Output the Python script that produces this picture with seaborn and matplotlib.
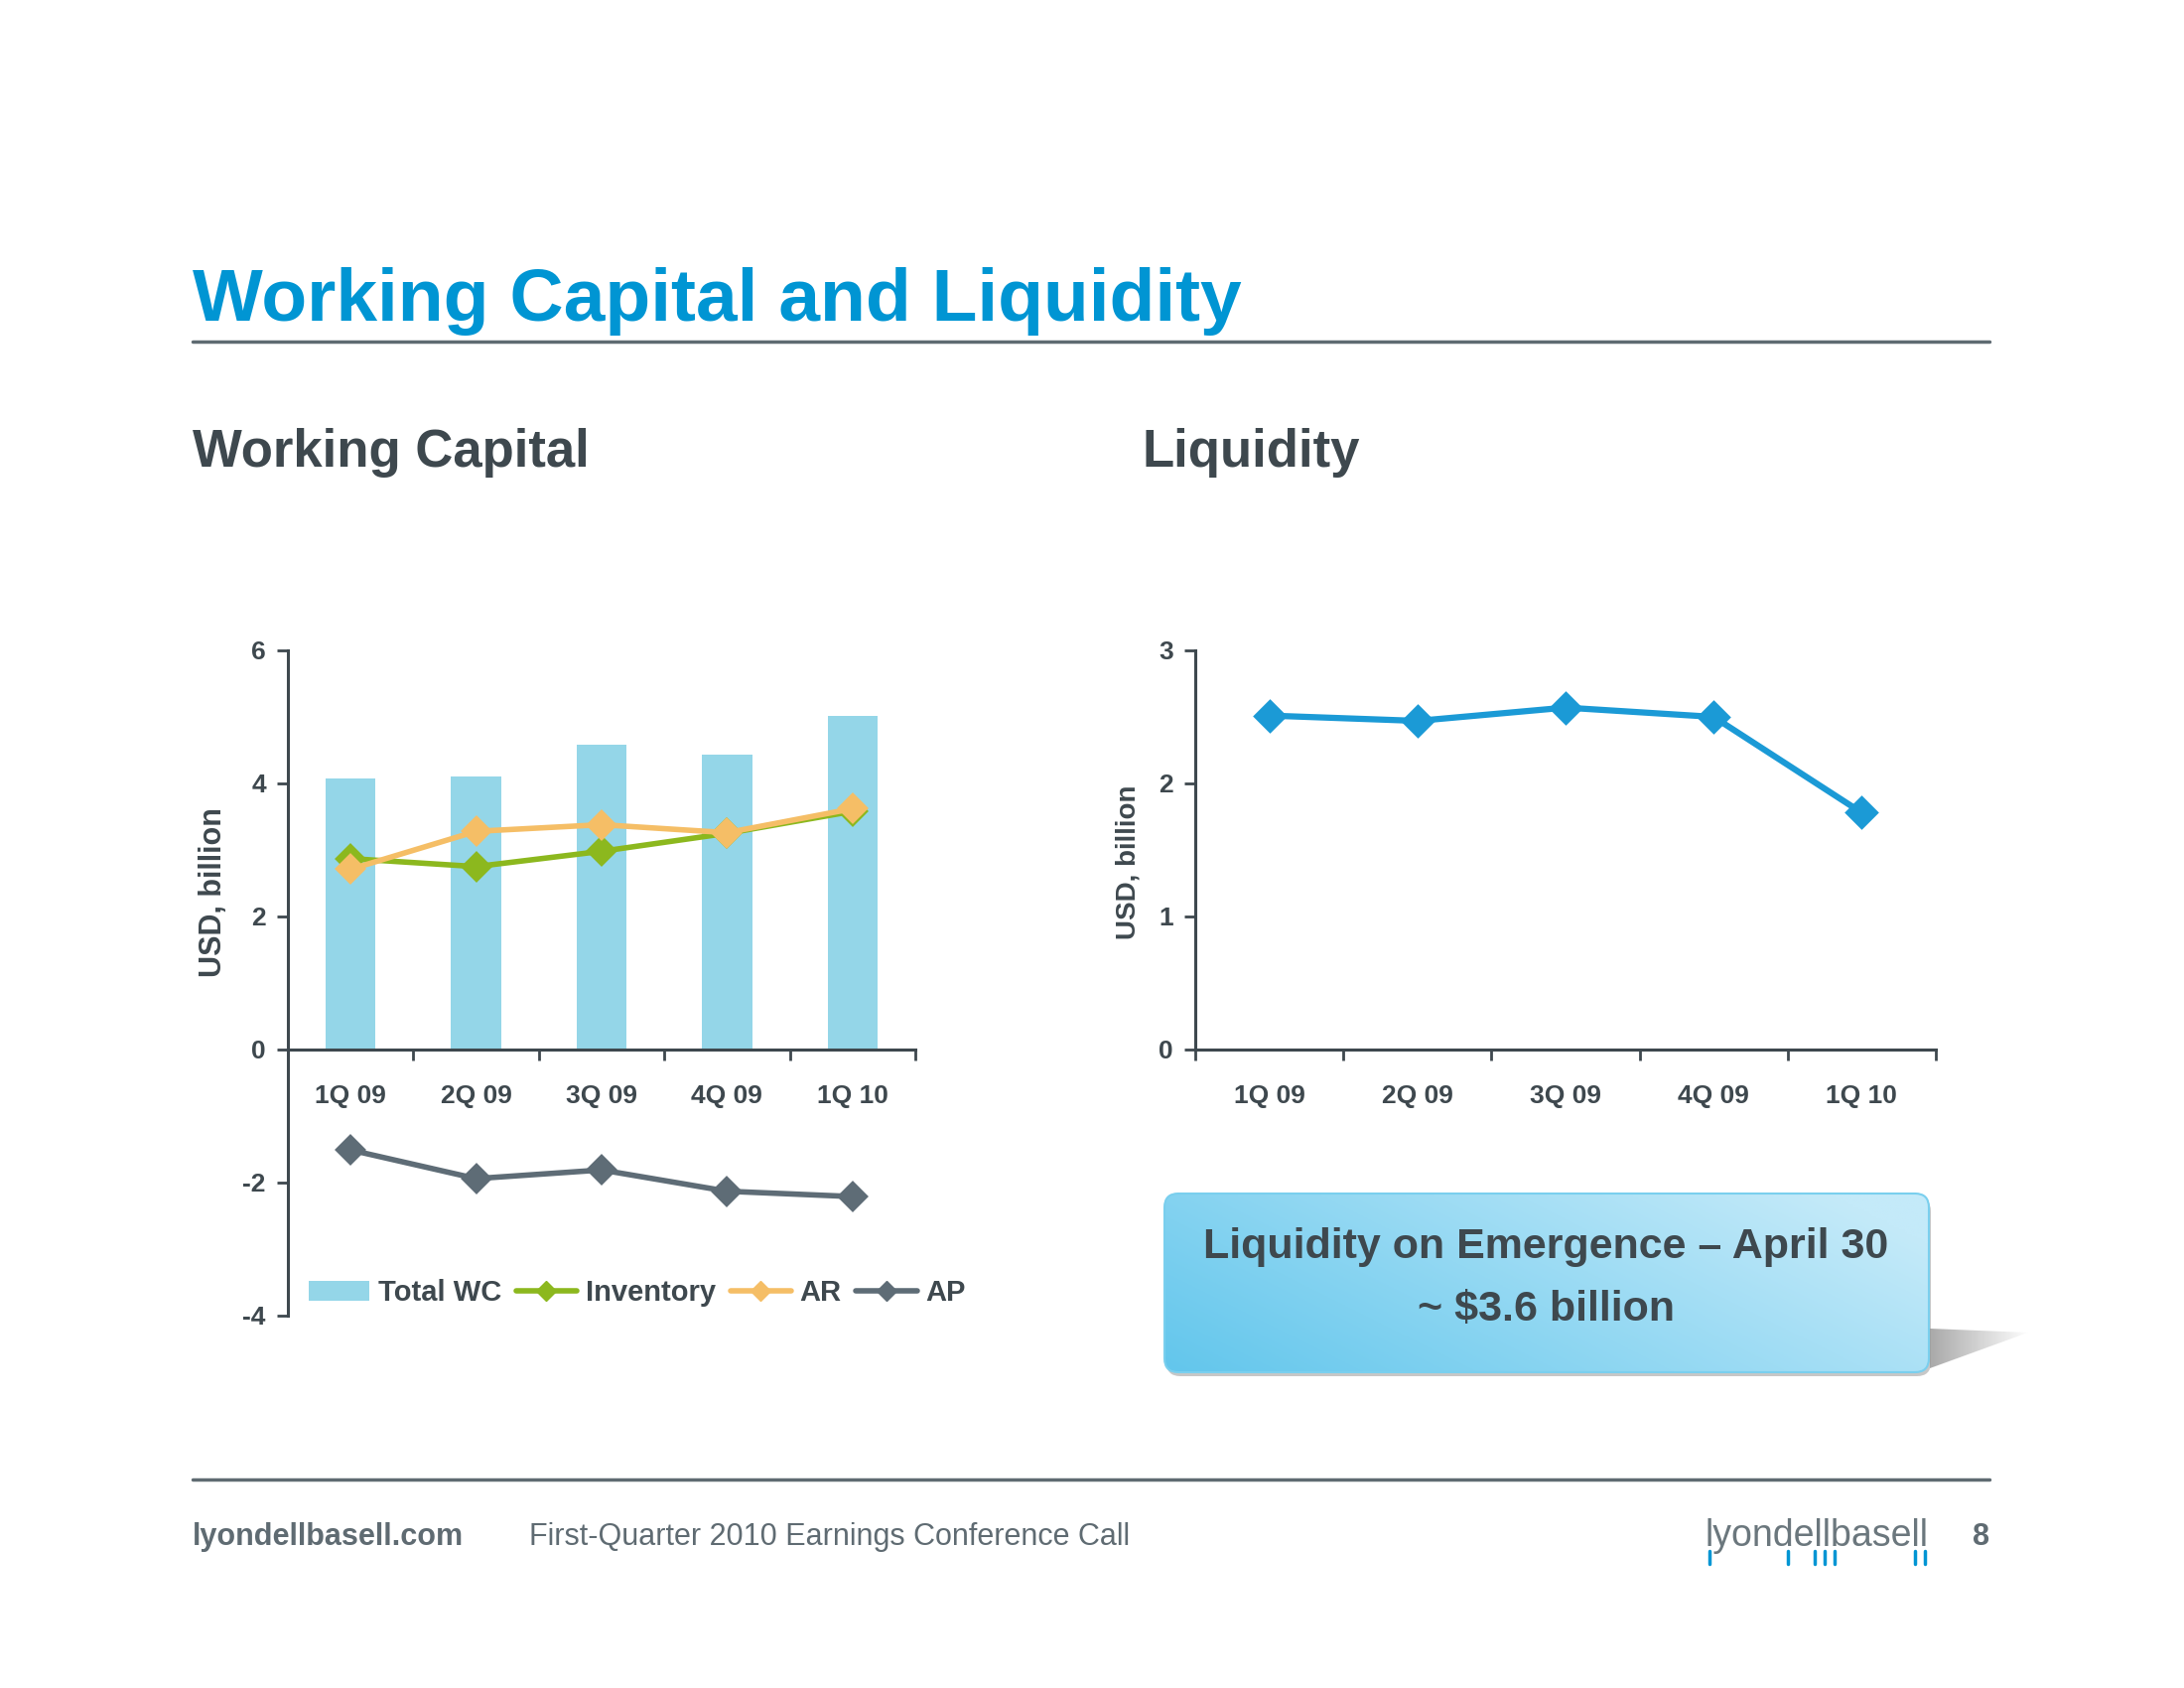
"""
Working Capital and Liquidity - slide recreation
"""

import numpy as np
import pandas as pd
import matplotlib.pyplot as plt
import seaborn as sns
from matplotlib.patches import FancyBboxPatch, Polygon, Patch
from matplotlib.lines import Line2D

quarters = ['1Q 09', '2Q 09', '3Q 09', '4Q 09', '1Q 10']
total_wc = [4.08, 4.11, 4.58, 4.44, 5.01]
inventory = [2.87, 2.75, 2.98, 3.25, 3.58]
ar = [2.71, 3.28, 3.38, 3.26, 3.62]
ap = [-1.51, -1.94, -1.81, -2.13, -2.21]
liquidity = [2.51, 2.47, 2.57, 2.50, 1.78]

wc = pd.DataFrame({'quarter': quarters, 'total_wc': total_wc, 'inventory': inventory,
                   'ar': ar, 'ap': ap})
liq = pd.DataFrame({'quarter': quarters, 'liquidity': liquidity})

# cores
BLUE_TITLE = '#0095D3'
DARK = '#3E484E'
GRAY = '#5F6B72'
C_WC = '#94D6E8'
C_INV = '#8CB81E'
C_AR = '#F5BE66'
C_AP = '#5E6C76'
C_LIQ = '#1B9AD6'

sns.set_style("ticks")
plt.rcParams['font.family'] = ['Liberation Sans', 'DejaVu Sans']
plt.rcParams['axes.unicode_minus'] = False

W, H = 2200, 1700
fig = plt.figure(figsize=(22, 17), dpi=100)
fig.patch.set_facecolor('white')

# títulos
fig.text(194 / W, 1 - 323 / H, 'Working Capital and Liquidity', fontsize=54,
         fontweight='bold', color=BLUE_TITLE, va='baseline')
fig.add_artist(Line2D([194 / W, 2004 / W], [1 - 344 / H] * 2, color=GRAY, lw=2.5))
fig.text(194 / W, 1 - 470 / H, 'Working Capital', fontsize=38, fontweight='bold',
         color=DARK, va='baseline')
fig.text(1150 / W, 1 - 470 / H, 'Liquidity', fontsize=38, fontweight='bold',
         color=DARK, va='baseline')


def style_axis(ax, ylabel, label_xy, ylabel_size):
    ax.set_xlim(-0.5, len(quarters) - 0.5)
    ax.set_xticks(np.arange(-0.5, len(quarters), 1), labels=[''] * (len(quarters) + 1))
    ax.set_xticks(range(len(quarters)), labels=quarters, minor=True)
    ax.tick_params(axis='x', which='major', length=8, width=2, color=DARK)
    ax.tick_params(axis='x', which='minor', length=0, pad=25, labelsize=19, labelcolor=DARK)
    ax.tick_params(axis='y', length=8, width=2, color=DARK, pad=8, labelsize=19, labelcolor=DARK)
    for lab in ax.get_xticklabels(minor=True) + ax.get_yticklabels():
        lab.set_fontweight('bold')
    for s in ['top', 'right']:
        ax.spines[s].set_visible(False)
    for s in ['left', 'bottom']:
        ax.spines[s].set_color(DARK)
        ax.spines[s].set_linewidth(2.2)
    ax.set_xlabel('')
    ax.set_ylabel(ylabel, fontsize=ylabel_size, fontweight='bold', color=DARK)
    ax.yaxis.set_label_coords(*label_xy)


# gráfico de capital de giro
ax1 = fig.add_axes([290 / W, 1 - 1325 / H, 632 / W, 670 / H])
sns.barplot(data=wc, x='quarter', y='total_wc', color=C_WC, saturation=1, width=0.4,
            linewidth=0, ax=ax1)
sns.pointplot(data=wc, x='quarter', y='inventory', color=C_INV, markers='D',
              markersize=13, linewidth=4, errorbar=None, ax=ax1)
sns.pointplot(data=wc, x='quarter', y='ar', color=C_AR, markers='D',
              markersize=13, linewidth=4, errorbar=None, ax=ax1)
sns.pointplot(data=wc, x='quarter', y='ap', color=C_AP, markers='D',
              markersize=13, linewidth=4, errorbar=None, ax=ax1)
ax1.set_ylim(-4, 6)
ax1.set_yticks([-4, -2, 0, 2, 4, 6])
ax1.spines['bottom'].set_position(('data', 0))
style_axis(ax1, 'USD, billion', (-0.095, 0.636), 22)

handles = [Patch(facecolor=C_WC, edgecolor='none'),
           Line2D([], [], color=C_INV, lw=4, marker='D', ms=10),
           Line2D([], [], color=C_AR, lw=4, marker='D', ms=10),
           Line2D([], [], color=C_AP, lw=4, marker='D', ms=10)]
leg = ax1.legend(handles, ['Total WC', 'Inventory', 'AR', 'AP'], ncol=4, frameon=False,
                 loc='center left', bbox_to_anchor=(311 / W, 1 - 1302 / H),
                 bbox_transform=fig.transFigure, borderaxespad=0, borderpad=0,
                 handlelength=2.1, handletextpad=0.3, columnspacing=0.5,
                 prop={'size': 21, 'weight': 'bold'})
for t in leg.get_texts():
    t.set_color(DARK)

# gráfico de liquidez
ax2 = fig.add_axes([1204 / W, 1 - 1057 / H, 746 / W, 402 / H])
sns.pointplot(data=liq, x='quarter', y='liquidity', color=C_LIQ, markers='D',
              markersize=14, linewidth=4.5, errorbar=None, ax=ax2)
ax2.set_ylim(0, 3)
ax2.set_yticks([0, 1, 2, 3])
style_axis(ax2, 'USD, billion', (-0.073, 0.47), 20)

# caixa de destaque
bx0, by0 = 1165, 1395  # canto inferior esquerdo em pixels (y de cima)
bw, bh = 895, 200
axb = fig.add_axes([bx0 / W, 1 - by0 / H, bw / W, bh / H])
axb.set_xlim(0, bw)
axb.set_ylim(0, bh)
axb.axis('off')

# sombra em cunha à direita
shade = np.zeros((1, 200, 4))
shade[..., :3] = 0.55
shade[..., 3] = np.linspace(0.75, 0.0, 200)
im_sh = axb.imshow(shade, extent=[779, 880, 17, 57], aspect='auto', zorder=1)
wedge = Polygon([(779, 57), (878, 53), (779, 17)], closed=True, transform=axb.transData,
                facecolor='none', edgecolor='none')
axb.add_patch(wedge)
im_sh.set_clip_path(wedge)

# sombra inferior
axb.add_patch(FancyBboxPatch((10, 9), 770, 180, boxstyle='round,pad=0,rounding_size=14',
                             facecolor='#9A9A9A', edgecolor='none', alpha=0.55, zorder=1))

gx = np.linspace(0, 1, 300)
gy = np.linspace(0, 1, 80)
GX, GY = np.meshgrid(gx, gy)
t = np.clip(0.75 * GX + 0.35 * GY, 0, 1)
c0 = np.array([0x62, 0xC6, 0xEC]) / 255
c1 = np.array([0xC4, 0xEA, 0xF9]) / 255
grad = c0 + (c1 - c0) * t[..., None]
im_box = axb.imshow(grad, extent=[8, 778, 13, 193], origin='lower', aspect='auto', zorder=2)
box = FancyBboxPatch((8, 13), 770, 180, boxstyle='round,pad=0,rounding_size=14',
                     facecolor='none', edgecolor='#7ACFEE', lw=1.5, zorder=3)
axb.add_patch(box)
im_box.set_clip_path(box)

axb.text(392, 139, 'Liquidity on Emergence \u2013 April 30', fontsize=31, fontweight='bold',
         color=DARK, ha='center', va='center', zorder=4)
axb.text(392, 76, '~ $3.6 billion', fontsize=31, fontweight='bold',
         color=DARK, ha='center', va='center', zorder=4)

# rodapé
fig.add_artist(Line2D([194 / W, 2004 / W], [1 - 1490 / H] * 2, color=GRAY, lw=2.5))
fig.text(194 / W, 1 - 1556 / H, 'lyondellbasell.com', fontsize=22, fontweight='bold',
         color=GRAY, va='baseline')
fig.text(533 / W, 1 - 1556 / H, 'First-Quarter 2010 Earnings Conference Call', fontsize=22,
         color=GRAY, va='baseline')
fig.text(2004 / W, 1 - 1556 / H, '8', fontsize=22, fontweight='bold', color=GRAY,
         ha='right', va='baseline')
fig.text(1943 / W, 1 - 1557 / H, 'lyondellbasell', fontsize=27, color='#6B777D',
         ha='right', va='baseline')
for xp in [1722, 1801, 1828, 1838, 1848, 1929, 1939]:
    fig.add_artist(Line2D([xp / W] * 2, [1 - 1562 / H, 1 - 1575 / H], color=BLUE_TITLE, lw=2.5))

fig.savefig('out.png', dpi=100, facecolor='white')
